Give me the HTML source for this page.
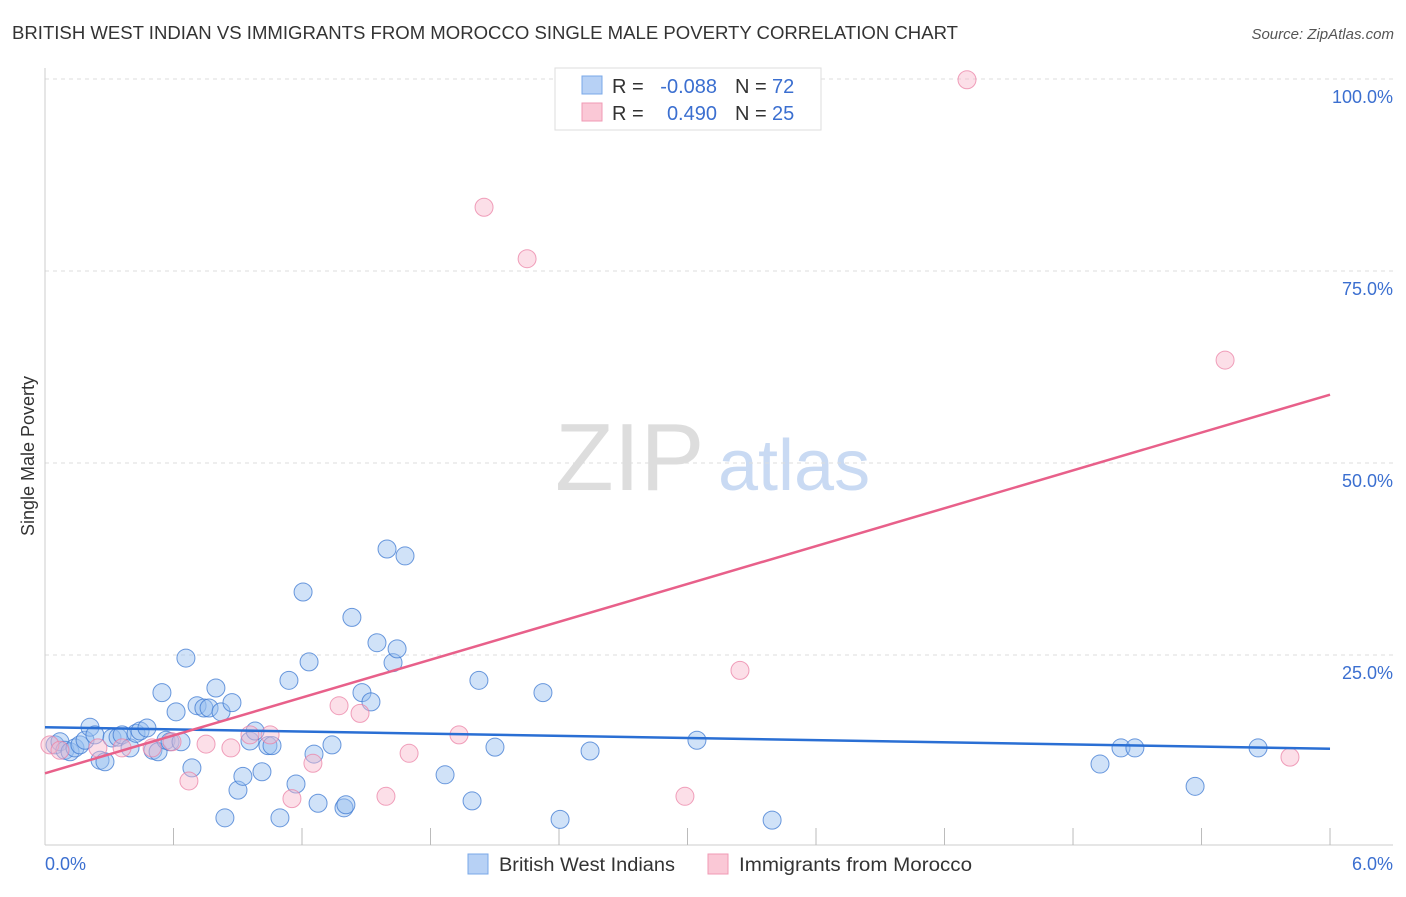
<!DOCTYPE html>
<html><head><meta charset="utf-8"><style>
body{margin:0;background:#fff;font-family:"Liberation Sans",sans-serif;}
svg text{font-family:"Liberation Sans",sans-serif;}
</style></head><body>
<svg id="chart" width="1406" height="892" xmlns="http://www.w3.org/2000/svg">
<text x="12" y="39" font-size="18" fill="#333" textLength="946" lengthAdjust="spacingAndGlyphs">BRITISH WEST INDIAN VS IMMIGRANTS FROM MOROCCO SINGLE MALE POVERTY CORRELATION CHART</text>
<text x="1394" y="39" font-size="15" fill="#555" font-style="italic" text-anchor="end">Source: ZipAtlas.com</text>
<g>
<text x="555" y="490" font-size="96" font-family="Liberation Serif, serif" fill="#ddd">ZIP</text>
<text x="718" y="490" font-size="72" fill="#c9daf3">atlas</text>
</g>
<g id="grid"></g>
<g id="axes"></g>
<g id="marks"></g>
<text transform="translate(34,456) rotate(-90)" font-size="18" fill="#333" text-anchor="middle">Single Male Poverty</text>
<g>
<rect x="555" y="68" width="266" height="62" fill="#fff" stroke="#ddd"/>
<rect x="582" y="76" width="20" height="18" fill="#b7d1f5" stroke="#7aa8e8"/>
<rect x="582" y="103" width="20" height="18" fill="#fac8d6" stroke="#f09ab4"/>
<text x="612" y="93" font-size="20" fill="#333">R =</text>
<text x="717" y="93" font-size="20" fill="#3b6fd0" text-anchor="end">-0.088</text>
<text x="735" y="93" font-size="20" fill="#333">N =</text>
<text x="772" y="93" font-size="20" fill="#3b6fd0">72</text>
<text x="612" y="120" font-size="20" fill="#333">R =</text>
<text x="717" y="120" font-size="20" fill="#3b6fd0" text-anchor="end">0.490</text>
<text x="735" y="120" font-size="20" fill="#333">N =</text>
<text x="772" y="120" font-size="20" fill="#3b6fd0">25</text>
</g>
<g>
<rect x="468" y="854" width="20" height="20" fill="#b7d1f5" stroke="#7aa8e8"/>
<text x="499" y="871" font-size="19" fill="#333" textLength="176" lengthAdjust="spacingAndGlyphs">British West Indians</text>
<rect x="708" y="854" width="20" height="20" fill="#fac8d6" stroke="#f09ab4"/>
<text x="739" y="871" font-size="19" fill="#333" textLength="233" lengthAdjust="spacingAndGlyphs">Immigrants from Morocco</text>
</g>
</svg>
<script>
const blueX=[0.047,0.070,0.093,0.117,0.140,0.163,0.187,0.210,0.233,0.257,0.280,0.313,0.341,0.360,0.397,0.425,0.444,0.476,0.504,0.528,0.546,0.565,0.584,0.612,0.635,0.658,0.686,0.710,0.742,0.766,0.798,0.822,0.840,0.873,0.901,0.924,0.957,0.981,1.013,1.041,1.060,1.097,1.139,1.172,1.205,1.233,1.256,1.275,1.340,1.396,1.405,1.433,1.480,1.522,1.550,1.597,1.625,1.644,1.681,1.868,1.994,2.026,2.101,2.325,2.405,2.545,3.044,3.395,4.926,5.024,5.089,5.370,5.664];
const blueY=[13.3,13.7,12.6,12.4,12.9,13.3,13.9,15.6,14.6,11.3,11.1,14.2,14.3,14.6,12.9,14.8,15.1,15.5,12.6,12.4,20.1,13.9,13.7,17.6,13.7,24.6,10.3,18.4,18.1,18.1,20.7,17.6,3.8,18.8,7.4,9.2,13.8,15.1,9.8,13.2,13.2,3.8,21.7,8.2,33.2,24.1,12.1,5.7,13.3,5.1,5.5,29.9,20.1,18.9,26.6,38.8,24.0,25.8,37.9,9.4,6.0,21.7,13.0,20.1,3.6,12.5,13.9,3.5,10.8,12.9,12.9,7.9,12.9];
const pinkX=[0.023,0.070,0.247,0.360,0.500,0.593,0.672,0.752,0.868,0.957,1.051,1.153,1.251,1.373,1.471,1.592,1.700,1.933,2.050,2.251,2.988,3.245,4.305,5.510,5.813];
const pinkY=[13.3,12.6,12.9,12.9,12.9,13.7,8.6,13.4,12.9,14.6,14.6,6.3,10.9,18.4,17.4,6.6,12.2,14.6,83.3,76.6,6.6,23.0,99.9,63.4,11.7];
const blueTrend=[15.6,12.8];
const pinkTrend=[9.6,58.9];
const yTicks=[25,50,75,100];
const yTickLabels=["25.0%","50.0%","75.0%","100.0%"];
const xTickVals=[0.6,1.2,1.8,2.4,3.0,3.6,4.2,4.8,5.4,6.0];
const xEndLabels=["0.0%","6.0%"];

const NS="http://www.w3.org/2000/svg";
const X=v=>45+v*214.17;
const Y=v=>847-v*7.68;
function mk(tag,attrs,parent){const e=document.createElementNS(NS,tag);for(const k in attrs)e.setAttribute(k,attrs[k]);document.getElementById(parent).appendChild(e);return e;}
yTicks.forEach((t,i)=>{
 const l=mk('line',{x1:45,x2:1393,y1:Y(t),y2:Y(t),stroke:'#ddd','stroke-dasharray':'4,4'},'grid');
 
 
 const tx=mk('text',{x:1393,y:Y(t)+24,'font-size':18,fill:'#3b6fd0','text-anchor':'end'},'grid');
 tx.textContent=yTickLabels[i];
 
 
});
let a=mk('line',{x1:45,x2:45,y1:68,y2:845,stroke:'#ccc'},'axes');


a=mk('line',{x1:45,x2:1393,y1:845,y2:845,stroke:'#ccc'},'axes');


xTickVals.forEach(v=>{
 const t=mk('line',{x1:X(v),x2:X(v),y1:828,y2:845,stroke:'#bbb'},'axes');
 
 
});
let t0=mk('text',{x:45,y:870,'font-size':18,fill:'#3b6fd0'},'axes');t0.textContent=xEndLabels[0];


let t1=mk('text',{x:1393,y:870,'font-size':18,fill:'#3b6fd0','text-anchor':'end'},'axes');t1.textContent=xEndLabels[1];


blueX.forEach((v,i)=>{
 const c=mk('circle',{cx:X(v),cy:Y(blueY[i]),r:9,fill:'rgba(150,190,240,0.45)',stroke:'rgba(60,120,210,0.75)','stroke-width':1},'marks');
 
 
});
pinkX.forEach((v,i)=>{
 const c=mk('circle',{cx:X(v),cy:Y(pinkY[i]),r:9,fill:'rgba(248,185,205,0.45)',stroke:'rgba(235,130,165,0.75)','stroke-width':1},'marks');
 
 
});
let bl=mk('line',{x1:X(0),x2:X(6),y1:Y(blueTrend[0]),y2:Y(blueTrend[1]),stroke:'#2a6fd4','stroke-width':2.5},'marks');


let pl=mk('line',{x1:X(0),x2:X(6),y1:Y(pinkTrend[0]),y2:Y(pinkTrend[1]),stroke:'#e8608a','stroke-width':2.5},'marks');


</script>
</body></html>
